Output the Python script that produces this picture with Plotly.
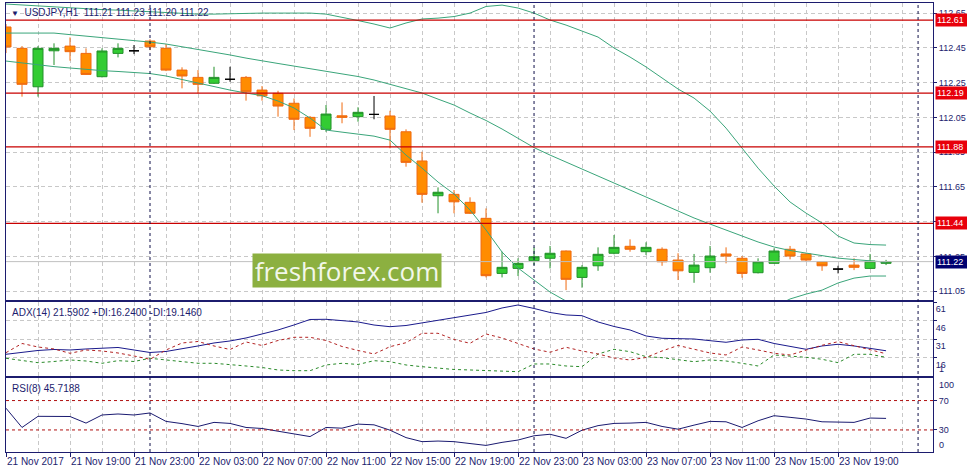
import pandas as pd
import plotly.graph_objects as go
from plotly.subplots import make_subplots

symbol = 'USDJPY,H1'
times = pd.date_range('2017-11-21 15:00', periods=56, freq='h')

open_ = [112.570, 112.447, 112.226, 112.433, 112.460, 112.418, 112.284, 112.418, 112.433, 112.489,
         112.447, 112.322, 112.280, 112.246, 112.269, 112.280, 112.207, 112.188, 112.131, 112.050,
         111.981, 112.059, 112.054, 112.067, 112.058, 111.967, 111.799, 111.599, 111.607, 111.561,
         111.469, 111.152, 111.181, 111.225, 111.239, 111.281, 111.129, 111.196, 111.268, 111.308,
         111.277, 111.291, 111.229, 111.158, 111.185, 111.264, 111.239, 111.156, 111.210, 111.291,
         111.264, 111.219, 111.177, 111.200, 111.181, 111.21]
high = [112.587, 112.460, 112.460, 112.476, 112.510, 112.447, 112.447, 112.476, 112.466, 112.499,
        112.472, 112.338, 112.322, 112.341, 112.341, 112.288, 112.230, 112.203, 112.159, 112.058,
        112.121, 112.136, 112.108, 112.173, 112.088, 111.981, 111.852, 111.647, 111.632, 111.590,
        111.526, 111.277, 111.239, 111.302, 111.310, 111.284, 111.200, 111.302, 111.373, 111.348,
        111.331, 111.302, 111.268, 111.264, 111.310, 111.302, 111.252, 111.239, 111.296, 111.310,
        111.268, 111.220, 111.196, 111.239, 111.264, 111.23]
low = [112.420, 112.169, 112.169, 112.351, 112.376, 112.295, 112.280, 112.395, 112.414, 112.437,
       112.316, 112.217, 112.188, 112.242, 112.255, 112.146, 112.146, 112.054, 111.977, 111.938,
       111.967, 112.016, 112.025, 112.039, 111.872, 111.766, 111.559, 111.498, 111.498, 111.494,
       111.129, 111.129, 111.137, 111.200, 111.181, 111.056, 111.070, 111.167, 111.262, 111.277,
       111.258, 111.196, 111.114, 111.098, 111.156, 111.210, 111.127, 111.152, 111.209, 111.233,
       111.219, 111.167, 111.152, 111.171, 111.180, 111.20]
close = [112.455, 112.240, 112.447, 112.447, 112.428, 112.297, 112.432, 112.447, 112.433, 112.456,
         112.322, 112.288, 112.240, 112.280, 112.269, 112.197, 112.174, 112.115, 112.039, 111.987,
         112.069, 112.050, 112.079, 112.067, 111.981, 111.791, 111.607, 111.619, 111.564, 111.498,
         111.139, 111.187, 111.210, 111.248, 111.268, 111.118, 111.187, 111.262, 111.302, 111.291,
         111.302, 111.219, 111.167, 111.200, 111.252, 111.252, 111.152, 111.219, 111.281, 111.252,
         111.229, 111.196, 111.177, 111.187, 111.223, 111.22]

bb_upper = [112.702, 112.696, 112.690, 112.685, 112.679, 112.673, 112.670, 112.667, 112.662, 112.656,
            112.650, 112.647, 112.644, 112.644, 112.647, 112.647, 112.650, 112.650, 112.650, 112.650,
            112.644, 112.627, 112.607, 112.587, 112.564, 112.593, 112.616, 112.621, 112.630, 112.650,
            112.688, 112.696, 112.679, 112.650, 112.610, 112.581, 112.547, 112.512, 112.449, 112.397,
            112.340, 112.276, 112.213, 112.161, 112.086, 111.988, 111.873, 111.758, 111.655, 111.563,
            111.499, 111.442, 111.367, 111.327, 111.318, 111.315]
bb_middle = [112.535, 112.535, 112.535, 112.535, 112.526, 112.518, 112.509, 112.501, 112.492, 112.483,
             112.472, 112.457, 112.443, 112.426, 112.409, 112.391, 112.374, 112.360, 112.345, 112.331,
             112.316, 112.302, 112.285, 112.265, 112.239, 112.216, 112.190, 112.155, 112.121, 112.075,
             112.032, 111.983, 111.931, 111.876, 111.833, 111.793, 111.753, 111.712, 111.672, 111.632,
             111.591, 111.551, 111.511, 111.471, 111.436, 111.402, 111.367, 111.333, 111.304, 111.284,
             111.269, 111.255, 111.240, 111.232, 111.223, 111.217]
bb_lower = [112.374, 112.362, 112.351, 112.342, 112.334, 112.325, 112.319, 112.314, 112.308, 112.302,
            112.288, 112.268, 112.245, 112.224, 112.207, 112.190, 112.175, 112.144, 112.104, 112.046,
            111.977, 111.965, 111.954, 111.942, 111.919, 111.833, 111.758, 111.678, 111.609, 111.517,
            111.402, 111.275, 111.183, 111.114, 111.045, 110.993, 110.947, 110.912, 110.895, 110.866,
            110.843, 110.826, 110.809, 110.780, 110.786, 110.826, 110.861, 110.907, 110.959, 111.005,
            111.033, 111.056, 111.097, 111.125, 111.137, 111.137]

adx = [18.71, 20.18, 21.82, 22.63, 22.22, 23.04, 23.86, 24.27, 22.22, 20.18,
       21.00, 23.04, 25.49, 27.94, 29.57, 32.02, 35.29, 38.55, 42.63, 47.12,
       47.29, 46.31, 45.10, 42.60, 41.24, 42.20, 44.27, 46.71, 48.35, 50.80,
       52.84, 56.51, 58.96, 56.10, 52.84, 50.80, 50.22, 45.08, 41.41, 38.55,
       33.65, 31.78, 31.20, 31.20, 29.82, 28.51, 30.39, 30.96, 27.53, 24.92,
       22.80, 25.49, 26.88, 25.49, 23.61, 21.5902]
plus_di = [15.45, 13.49, 11.86, 12.84, 14.06, 13.24, 11.37, 13.49, 12.84, 15.45,
           14.06, 12.67, 11.37, 11.37, 9.98, 9.16, 7.94, 5.90, 5.33, 5.33,
           9.98, 11.37, 10.39, 13.49, 12.67, 9.98, 8.59, 7.53, 6.31, 5.90,
           5.33, 4.51, 4.51, 10.80, 10.80, 9.16, 8.59, 18.96, 22.80, 20.84,
           16.76, 15.94, 14.06, 12.67, 14.06, 13.24, 11.37, 9.16, 18.14, 17.33,
           16.27, 14.63, 11.86, 18.71, 18.71, 16.24]
minus_di = [20.02, 27.53, 24.67, 23.04, 19.53, 22.22, 21.41, 19.78, 17.33, 14.63,
            22.22, 27.94, 29.16, 25.49, 22.63, 28.76, 25.90, 29.98, 32.59, 32.59,
            29.98, 25.08, 21.82, 18.96, 24.92, 28.18, 35.86, 35.86, 30.80, 27.69,
            35.29, 32.02, 27.53, 23.04, 20.35, 24.43, 21.41, 18.96, 15.69, 14.06,
            16.10, 21.41, 25.90, 22.63, 19.78, 18.14, 24.67, 22.22, 19.53, 18.14,
            22.22, 26.06, 29.00, 25.90, 22.63, 19.146]
rsi = [59.59, 33.38, 48.55, 48.55, 48.28, 39.31, 50.34, 51.72, 50.34, 53.10,
       41.66, 38.62, 34.76, 40.28, 38.90, 33.38, 32.00, 28.28, 24.14, 20.97,
       33.38, 32.41, 37.93, 36.97, 29.66, 19.59, 14.07, 14.90, 14.07, 11.72,
       8.97, 13.10, 16.28, 22.07, 24.14, 18.62, 29.66, 35.86, 38.90, 39.31,
       40.28, 34.76, 31.03, 36.55, 41.66, 41.10, 33.38, 42.48, 49.38, 47.17,
       44.83, 41.10, 40.28, 40.28, 46.21, 45.7188]

levels = [112.61, 112.19, 111.88, 111.44]
bid = 111.22
price_ticks = [111.05, 111.25, 111.45, 111.65, 111.85, 112.05, 112.25, 112.45, 112.65]
adx_ticks = [16, 31, 46, 61]
rsi_levels = [30, 70]

frame = '#1c1c6e'
grid = '#c8c8c8'
font = 'Liberation Sans, Arial, sans-serif'

# x tick labels every 4 bars, MT4 style
tick_times = list(times[::4])
tick_text = [f'{t:%d %b %Y}' if k == 0 else f'{t:%d %b %H:%M}' for k, t in enumerate(tick_times)]
day_marks = pd.date_range(times[0].ceil('D'), times[-1].ceil('D'), freq='D')


def candle_trace(mask, line_color, fill_color):
    def pick(vals):
        return [v if m else None for v, m in zip(vals, mask)]
    style = dict(line=dict(color=line_color, width=1), fillcolor=fill_color)
    return go.Candlestick(x=times, open=pick(open_), high=pick(high), low=pick(low), close=pick(close),
                          increasing=style, decreasing=style, whiskerwidth=0, hoverinfo='skip')


fig = make_subplots(rows=3, cols=1, shared_xaxes=True, vertical_spacing=0.005)

bull = [c > o for o, c in zip(open_, close)]
bear = [c < o for o, c in zip(open_, close)]
doji = [c == o for o, c in zip(open_, close)]

for band in (bb_upper, bb_middle, bb_lower):
    fig.add_trace(go.Scatter(x=times, y=band, mode='lines', line=dict(color='#3aa57a', width=1)), row=1, col=1)

fig.add_trace(candle_trace(bear, '#f06a10', '#ff8c00'), row=1, col=1)
fig.add_trace(candle_trace(bull, '#23912a', '#33cc33'), row=1, col=1)
fig.add_trace(candle_trace(doji, '#000000', '#000000'), row=1, col=1)

fig.add_trace(go.Scatter(x=times, y=adx, mode='lines', line=dict(color='#1a1a8c', width=1)), row=2, col=1)
fig.add_trace(go.Scatter(x=times, y=plus_di, mode='lines', line=dict(color='#2a8a2a', width=1, dash='3px,3px')), row=2, col=1)
fig.add_trace(go.Scatter(x=times, y=minus_di, mode='lines', line=dict(color='#b22222', width=1, dash='3px,3px')), row=2, col=1)

fig.add_trace(go.Scatter(x=times, y=rsi, mode='lines', line=dict(color='#1a1a70', width=1)), row=3, col=1)

# horizontal levels
fig.add_hline(y=bid, line=dict(color='#c0c0c0', width=1), row=1, col=1)
for lv in levels:
    fig.add_hline(y=lv, line=dict(color='#c80000', width=1.2), row=1, col=1)
for lv in rsi_levels:
    fig.add_hline(y=lv, line=dict(color='#b01010', width=1, dash='3px,3px'), row=3, col=1)

# day separators across all panels
for d in day_marks:
    fig.add_shape(type='line', xref='x', yref='paper', x0=d, x1=d, y0=0, y1=1,
                  line=dict(color='#10104a', width=1, dash='3px,3px'))

label_font = dict(color=frame, size=9, family=font)
annotations = []
for lv in levels:
    annotations.append(dict(x=1, xref='paper', xanchor='left', xshift=2, y=lv, yref='y', yanchor='middle',
                            text=f'{lv:.2f}', showarrow=False, bgcolor='#e8000b', width=30, height=10,
                            borderpad=1, align='left', font=dict(color='white', size=9, family=font)))
annotations.append(dict(x=1, xref='paper', xanchor='left', xshift=2, y=bid, yref='y', yanchor='middle',
                        text=f'{bid:.2f}', showarrow=False, bgcolor='#000070', width=30, height=10,
                        borderpad=1, align='left', font=dict(color='white', size=9, family=font)))

header = (f'<span style="font-size:8px">▼</span>  {symbol}  {open_[-1]:.2f} {high[-1]:.2f} '
          f'{low[-1]:.2f} {close[-1]:.2f}')
annotations.append(dict(x=0, xref='paper', xanchor='left', xshift=3, y=1, yref='paper', yanchor='top',
                        yshift=-2, text=header, showarrow=False, font=dict(color=frame, size=10, family=font)))
annotations.append(dict(x=0, xref='x2 domain', xanchor='left', xshift=4, y=1, yref='y2 domain',
                        yanchor='top', yshift=-3, showarrow=False,
                        text=f'ADX(14) {adx[-1]:.4f} +DI:{plus_di[-1]:.4f} -DI:{minus_di[-1]:.4f}',
                        font=dict(color=frame, size=10, family=font)))
annotations.append(dict(x=0, xref='x3 domain', xanchor='left', xshift=4, y=1, yref='y3 domain',
                        yanchor='top', yshift=-3, showarrow=False, text=f'RSI(8) {rsi[-1]:.4f}',
                        font=dict(color=frame, size=10, family=font)))
annotations.append(dict(x=1, xref='paper', xanchor='left', xshift=4, y=1, yref='y2', yanchor='bottom',
                        text='1', showarrow=False, font=label_font))
annotations.append(dict(x=1, xref='paper', xanchor='left', xshift=4, y=100, yref='y3', yanchor='top',
                        text='100', showarrow=False, font=label_font))
annotations.append(dict(x=1, xref='paper', xanchor='left', xshift=4, y=0, yref='y3', yanchor='bottom',
                        text='0', showarrow=False, font=label_font))
# watermark
annotations.append(dict(x=0.368, xref='paper', y=0.404, yref='paper', xanchor='center', yanchor='middle',
                        text='freshforex.com', showarrow=False, bgcolor='#8cb040', width=184, height=29,
                        borderpad=2, font=dict(color='#f2f7ea', size=26, family='Open Sans')))

fig.update_xaxes(type='date', range=['2017-11-21 15:00', '2017-11-24 00:56'],
                 tickvals=tick_times, ticktext=tick_text, tickangle=0, automargin=False,
                 showgrid=True, gridcolor=grid, griddash='4px,3px', gridwidth=1,
                 minor=dict(dtick=2 * 3600 * 1000, tick0=times[0].strftime('%Y-%m-%d %H:%M'),
                            showgrid=True, gridcolor=grid, griddash='4px,3px', gridwidth=1),
                 showline=True, mirror=True, linecolor=frame, linewidth=1, zeroline=False,
                 rangeslider=dict(visible=False))
fig.update_xaxes(ticks='outside', ticklen=4, tickcolor=frame, ticklabelposition='outside right',
                 tickfont=dict(color=frame, size=10, family=font), row=3, col=1)

fig.update_yaxes(side='right', showline=True, mirror=True, linecolor=frame, linewidth=1, zeroline=False,
                 ticks='outside', ticklen=3, tickcolor=frame, tickfont=label_font, automargin=False,
                 showgrid=True, gridcolor=grid, griddash='4px,3px', gridwidth=1)

fig.update_layout(
    width=967, height=475,
    margin=dict(l=6, r=34, t=3, b=23),
    paper_bgcolor='white', plot_bgcolor='white',
    showlegend=False,
    boxgap=0.375, boxgroupgap=0,
    annotations=annotations,
    yaxis=dict(domain=[0.3385, 1], range=[110.999, 112.708], tickvals=price_ticks,
               ticktext=[f'{v:.2f}' for v in price_ticks]),
    yaxis2=dict(domain=[0.1693, 0.333], range=[1, 61], tickvals=adx_ticks,
                ticklabelposition='outside bottom'),
    yaxis3=dict(domain=[0, 0.1637], range=[0, 100], tickvals=rsi_levels, showgrid=False),
)

# the page body has a default 8px margin; drop it so the chart sits at the window corner
fig.write_html('out.html', config={'displayModeBar': False},
               post_script="document.body.style.margin = '0';")
